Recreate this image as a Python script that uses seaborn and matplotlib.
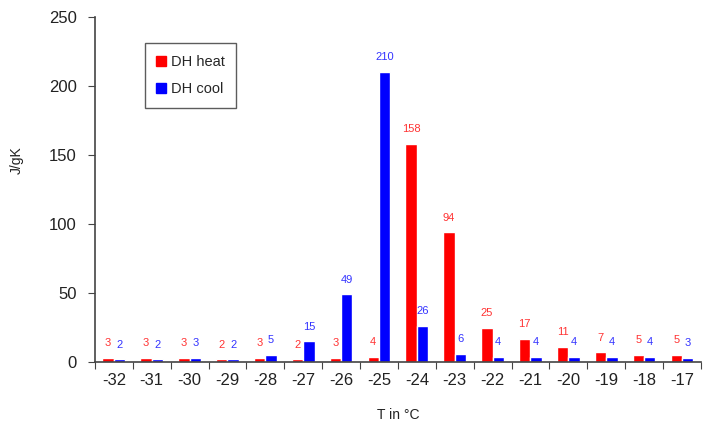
import numpy as np
import pandas as pd
import seaborn as sns
import matplotlib.pyplot as plt
from matplotlib.patches import Patch

## data
temps = ["-32", "-31", "-30", "-29", "-28", "-27", "-26", "-25",
         "-24", "-23", "-22", "-21", "-20", "-19", "-18", "-17"]
dh_heat = [3, 3, 3, 2, 3, 2, 3, 4, 158, 94, 25, 17, 11, 7, 5, 5]
dh_cool = [2, 2, 3, 2, 5, 15, 49, 210, 26, 6, 4, 4, 4, 4, 4, 3]

df = pd.DataFrame({
    "T": temps * 2,
    "val": dh_heat + dh_cool,
    "series": ["DH heat"] * len(temps) + ["DH cool"] * len(temps),
})

sns.set_style("white")
plt.rcParams['font.family'] = ['Liberation Sans', 'DejaVu Sans']

fig = plt.figure(figsize=(7.03, 4.25), dpi=100)
ax = fig.add_axes([0.135, 0.148, 0.862, 0.812])

colors = {"DH heat": "#ff0000", "DH cool": "#0000ff"}
sns.barplot(data=df, x="T", y="val", hue="series", order=temps,
            hue_order=["DH heat", "DH cool"], palette=colors,
            width=0.6, saturation=1, ax=ax, legend=False)

## value labels
lab_cols = ["#ff3333", "#3333ff"]
for cont, col in zip(ax.containers, lab_cols):
    ax.bar_label(cont, padding=7, fontsize=8, color=col)

ax.set_xlim(-0.5, len(temps) - 0.5)
ax.set_ylim(0, 250)
ax.set_yticks([0, 50, 100, 150, 200, 250])
ax.set_xlabel("T in °C", fontsize=10, color="#222222", labelpad=14)
ax.set_ylabel("J/gK", fontsize=10, color="#222222")
ax.yaxis.set_label_coords(-0.118, 0.585)

## category boundary ticks on the x axis
ax.set_xticks(np.arange(-0.5, len(temps), 1.0))
ax.set_xticklabels([])
ax.set_xticks(np.arange(len(temps)), minor=True)
ax.set_xticklabels(temps, minor=True, fontsize=12, color="#222222")
ax.tick_params(axis="x", which="major", length=5, direction="out", color="#444444", bottom=True)
ax.tick_params(axis="x", which="minor", length=0, pad=8)
ax.tick_params(axis="y", length=5, direction="out", color="#444444", left=True,
               labelsize=12, labelcolor="#222222", pad=8)

for s in ["top", "right"]:
    ax.spines[s].set_visible(False)
for s in ["left", "bottom"]:
    ax.spines[s].set_color("#444444")
    ax.spines[s].set_linewidth(1.2)

handles = [Patch(color=colors["DH heat"]), Patch(color=colors["DH cool"])]
leg = ax.legend(handles, ["DH heat", "DH cool"], loc="upper left",
                bbox_to_anchor=(0.07, 0.945), fontsize=10.5, frameon=True,
                fancybox=False, edgecolor="#333333", handlelength=0.7,
                handleheight=0.7, handletextpad=0.3, labelspacing=0.9,
                borderpad=0.8)
leg.get_frame().set_linewidth(1.0)

fig.savefig("out.png", dpi=100)
